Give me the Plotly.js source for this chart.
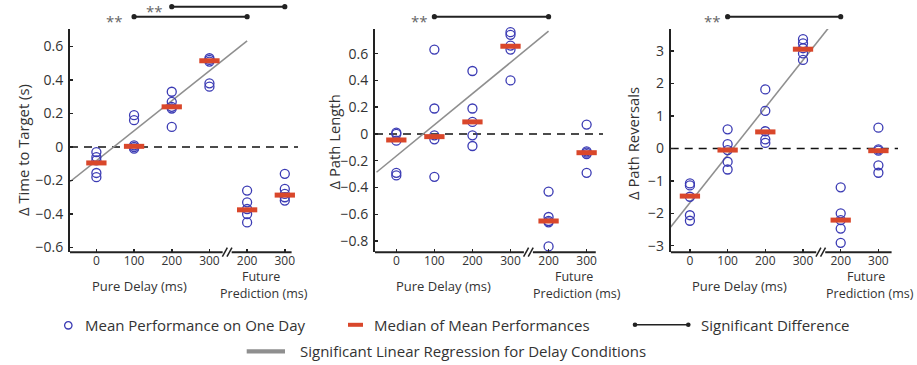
<!DOCTYPE html>
<html>
<head>
<meta charset="utf-8">
<script src="https://cdn.plot.ly/plotly-3.0.1.min.js"></script>
<style>html,body{margin:0;padding:0;background:#fff;}#chart{width:917px;height:365px;}</style>
</head>
<body>
<div id="chart"></div>
<script>
// ---------- DATA ----------
const cats = [0, 1, 2, 3, 4, 5];
const tickLabels = ['0', '100', '200', '300', '200', '300'];

// Δ Time to Target (s): mean performance on one day, per condition
const timeVals = [
  [-0.03, -0.06, -0.08, -0.155, -0.18],
  [0.19, 0.16, 0.01, 0.00, -0.01],
  [0.33, 0.27, 0.24, 0.23, 0.12],
  [0.53, 0.52, 0.51, 0.38, 0.36],
  [-0.26, -0.33, -0.37, -0.40, -0.45],
  [-0.16, -0.25, -0.28, -0.30, -0.32]
];
const timeMedians = [-0.095, 0.004, 0.24, 0.515, -0.375, -0.287];
const timeRegX = [-0.70, 4];
const timeRegY = [-0.207, 0.633];
const timeSig = [[2, 5], [1, 4]];

// Δ Path Length
const pathVals = [
  [0.01, 0.00, -0.05, -0.29, -0.31],
  [0.63, 0.19, -0.01, -0.04, -0.32],
  [0.47, 0.19, 0.09, -0.01, -0.09],
  [0.76, 0.74, 0.66, 0.63, 0.40],
  [-0.43, -0.62, -0.65, -0.66, -0.84],
  [0.07, -0.13, -0.14, -0.15, -0.29]
];
const pathMedians = [-0.045, -0.02, 0.09, 0.655, -0.65, -0.14];
const pathRegX = [-0.52, 4];
const pathRegY = [-0.286, 0.767];
const pathSig = [[1, 4]];

// Δ Path Reversals
const revVals = [
  [-1.08, -1.14, -1.49, -2.06, -2.23],
  [0.59, 0.13, -0.05, -0.41, -0.65],
  [1.82, 1.16, 0.53, 0.28, 0.17],
  [3.37, 3.24, 3.09, 2.93, 2.73],
  [-1.20, -2.00, -2.21, -2.47, -2.91],
  [0.64, -0.03, -0.07, -0.52, -0.75]
];
const revMedians = [-1.47, -0.05, 0.51, 3.06, -2.21, -0.07];
const revRegX = [-0.51, 4];
const revRegY = [-2.42, 4.19];
const revSig = [[1, 4]];

const yTitles = ['\u0394 Time to Target (s)', '\u0394 Path Length', '\u0394 Path Reversals'];
const legendLabels = ['Mean Performance on One Day', 'Median of Mean Performances',
  'Significant Difference', 'Significant Linear Regression for Delay Conditions'];

// ---------- STYLE / LAYOUT ----------
const W = 917, H = 365;
const PX = x => x / W;
const PY = y => 1 - y / H;
const FONT = 'Open Sans, Noto Sans, sans-serif';
const BLUE = '#3b3bb4', RED = '#d9472b', GRAY = '#8f8f8f', DARK = '#222', TXT = '#333';

const yDom = [PY(252.2), PY(29.1)];
const panels = [
  {vals: timeVals, med: timeMedians, regX: timeRegX, regY: timeRegY, sig: timeSig,
   xdom: [70, 298], xr: [-0.70, 5.35], yr: [-0.628, 0.704], axRight: 5.18, dtick: 0.2,
   ytitle: [23, 150], pure: 139, fut: 260.5, pred: 264, stars: [154, 114], sigPx: [6.7, 16.7]},
  {vals: pathVals, med: pathMedians, regX: pathRegX, regY: pathRegY, sig: pathSig,
   xdom: [375, 603], xr: [-0.56, 5.43], yr: [-0.883, 0.783], axRight: 5.24, dtick: 0.2,
   ytitle: [333, 142.5], pure: 443, fut: 574, pred: 577, stars: [419], sigPx: [16.7]},
  {vals: revVals, med: revMedians, regX: revRegX, regY: revRegY, sig: revSig,
   xdom: [670.7, 898], xr: [-0.51, 5.52], yr: [-3.20, 3.68], axRight: 5.35, dtick: 1,
   ytitle: [633, 144], pure: 739.3, fut: 866, pred: 870, stars: [712], sigPx: [16.7]}
];

const traces = [];
const shapes = [];
const annotations = [];
const layout = {
  width: W, height: H,
  margin: {l: 0, r: 0, t: 0, b: 0},
  paper_bgcolor: '#fff', plot_bgcolor: '#fff',
  showlegend: false,
  font: {family: FONT, color: TXT}
};

const BREAK = 3.47;

panels.forEach((p, i) => {
  const n = i === 0 ? '' : String(i + 1);
  const xa = 'x' + n, ya = 'y' + n;
  const pxPerK = (p.xdom[1] - p.xdom[0]) / (p.xr[1] - p.xr[0]);
  const gapK = 4.5 / pxPerK;

  layout['xaxis' + n] = {
    domain: [PX(p.xdom[0]), PX(p.xdom[1])], anchor: ya, range: p.xr,
    showline: false, showgrid: false, zeroline: false,
    tickmode: 'array', tickvals: cats, ticktext: tickLabels,
    ticks: 'inside', ticklen: 3, tickwidth: 1.5, tickcolor: DARK,
    tickfont: {size: 12, color: TXT, family: FONT}
  };
  layout['yaxis' + n] = {
    domain: yDom, anchor: xa, range: p.yr,
    showline: true, linecolor: DARK, linewidth: 2,
    showgrid: false, zeroline: false, dtick: p.dtick, tick0: 0,
    ticks: 'inside', ticklen: 3, tickwidth: 1.5, tickcolor: DARK,
    ticklabelstandoff: 2,
    tickfont: {size: 14, color: TXT, family: FONT}
  };

  // regression line
  traces.push({type: 'scatter', mode: 'lines', x: p.regX, y: p.regY, xaxis: xa, yaxis: ya,
    line: {color: GRAY, width: 1.6}, hoverinfo: 'skip'});
  // circles
  const cx = [], cy = [];
  p.vals.forEach((g, k) => g.forEach(v => { cx.push(cats[k]); cy.push(v); }));
  traces.push({type: 'scatter', mode: 'markers', x: cx, y: cy, xaxis: xa, yaxis: ya,
    cliponaxis: false,
    marker: {symbol: 'circle-open', size: 9, color: BLUE, line: {color: BLUE, width: 1.3}}});
  // medians
  traces.push({type: 'scatter', mode: 'markers', x: cats, y: p.med, xaxis: xa, yaxis: ya,
    cliponaxis: false,
    marker: {symbol: 'line-ew-open', size: 14.5, color: RED, line: {color: RED, width: 5}}});

  // dashed zero line
  shapes.push({type: 'line', xref: xa, yref: ya, x0: p.xr[0], x1: p.xr[1], y0: 0, y1: 0,
    line: {color: '#111', width: 1.6, dash: '8px,6px'}, layer: 'below'});
  // x-axis line with break
  shapes.push({type: 'line', xref: xa, yref: 'paper', x0: p.xr[0], x1: BREAK - gapK, y0: yDom[0], y1: yDom[0],
    line: {color: DARK, width: 2}});
  shapes.push({type: 'line', xref: xa, yref: 'paper', x0: BREAK + gapK, x1: p.axRight, y0: yDom[0], y1: yDom[0],
    line: {color: DARK, width: 2}});
  [[-4.8, 0.2], [-0.2, 4.8]].forEach(d => {
    shapes.push({type: 'line', xref: xa, yref: 'paper', xsizemode: 'pixel', ysizemode: 'pixel',
      xanchor: BREAK, yanchor: yDom[0], x0: d[0], x1: d[1], y0: -4.5, y1: 4.5,
      line: {color: DARK, width: 1.5}});
  });

  // significance bars
  p.sig.forEach((pair, j) => {
    const yp = PY(p.sigPx[j]);
    shapes.push({type: 'line', xref: xa, yref: 'paper', x0: cats[pair[0]], x1: cats[pair[1]], y0: yp, y1: yp,
      line: {color: DARK, width: 2}});
    pair.forEach(k => shapes.push({type: 'circle', xref: xa, yref: 'paper', xsizemode: 'pixel', ysizemode: 'pixel',
      xanchor: cats[k], yanchor: yp, x0: -2.6, x1: 2.6, y0: -2.6, y1: 2.6,
      fillcolor: DARK, line: {color: DARK, width: 0}}));
    annotations.push({text: '**', xref: 'paper', yref: 'paper', x: PX(p.stars[j]), y: PY(p.sigPx[j] + 4),
      xanchor: 'center', yanchor: 'middle', showarrow: false, font: {size: 15, color: '#666', family: FONT}});
  });

  // y title
  annotations.push({text: yTitles[i], xref: 'paper', yref: 'paper', x: PX(p.ytitle[0]), y: PY(p.ytitle[1]),
    xanchor: 'center', yanchor: 'middle', textangle: -90, showarrow: false,
    font: {size: 14.8, color: TXT, family: FONT}});
  // x labels
  annotations.push({text: 'Pure Delay (ms)', xref: 'paper', yref: 'paper', x: PX(p.pure), y: PY(285.7),
    xanchor: 'center', yanchor: 'middle', showarrow: false, font: {size: 13, color: TXT, family: FONT}});
  annotations.push({text: 'Future', xref: 'paper', yref: 'paper', x: PX(p.fut), y: PY(276),
    xanchor: 'center', yanchor: 'middle', showarrow: false, font: {size: 12.5, color: TXT, family: FONT}});
  annotations.push({text: 'Prediction (ms)', xref: 'paper', yref: 'paper', x: PX(p.pred), y: PY(293.3),
    xanchor: 'center', yanchor: 'middle', showarrow: false, font: {size: 12.5, color: TXT, family: FONT}});
});

// ---------- LEGEND (manual) ----------
const LF = {size: 15, color: TXT, family: FONT};
shapes.push({type: 'circle', xref: 'paper', yref: 'paper', xsizemode: 'pixel', ysizemode: 'pixel',
  xanchor: PX(68.3), yanchor: PY(325.3), x0: -3.7, x1: 3.7, y0: -3.7, y1: 3.7,
  line: {color: BLUE, width: 1.3}});
shapes.push({type: 'rect', xref: 'paper', yref: 'paper', x0: PX(348), x1: PX(363), y0: PY(326.8), y1: PY(322.8),
  fillcolor: RED, line: {width: 0}});
shapes.push({type: 'line', xref: 'paper', yref: 'paper', x0: PX(635), x1: PX(688.3), y0: PY(324.7), y1: PY(324.7),
  line: {color: DARK, width: 1.5}});
[635, 688.3].forEach(x => shapes.push({type: 'circle', xref: 'paper', yref: 'paper', xsizemode: 'pixel', ysizemode: 'pixel',
  xanchor: PX(x), yanchor: PY(324.7), x0: -2.3, x1: 2.3, y0: -2.3, y1: 2.3, fillcolor: DARK, line: {width: 0}}));
shapes.push({type: 'rect', xref: 'paper', yref: 'paper', x0: PX(246.7), x1: PX(285), y0: PY(353.4), y1: PY(349.2),
  fillcolor: GRAY, line: {width: 0}});

[[83.3, 325], [371.7, 325], [699.3, 325], [298, 351.3]].forEach((pos, i) => {
  annotations.push({text: legendLabels[i], xref: 'paper', yref: 'paper', x: PX(pos[0]), y: PY(pos[1]),
    xanchor: 'left', yanchor: 'middle', showarrow: false, font: LF});
});

layout.shapes = shapes;
layout.annotations = annotations;

Plotly.newPlot('chart', traces, layout, {displayModeBar: false, staticPlot: true});
</script>
</body>
</html>
